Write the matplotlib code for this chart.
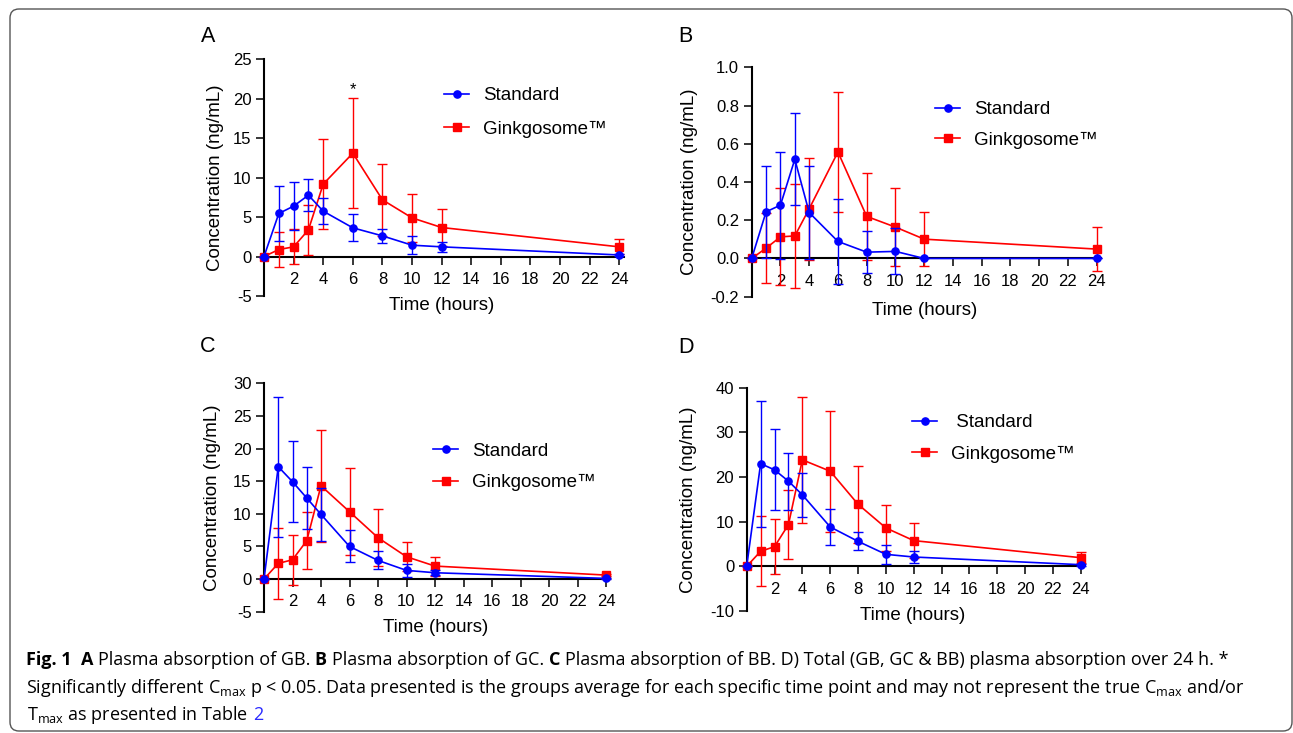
import matplotlib
matplotlib.use("Agg")
import matplotlib.pyplot as plt
from matplotlib.patches import FancyBboxPatch
from matplotlib.transforms import IdentityTransform

W, H = 1293, 733

# ---------------- data ----------------
time_h = [0, 1, 2, 3, 4, 6, 8, 10, 12, 24]
series_labels = ["Standard", "Ginkgosome\u2122"]

a_std_mean = [0, 5.46, 6.39, 7.78, 5.75, 3.64, 2.62, 1.44, 1.23, 0.20]
a_std_sd = [0, 3.5, 3.05, 2.0, 1.65, 1.7, 0.9, 1.15, 0.6, 0.15]
a_gink_mean = [0, 0.89, 1.23, 3.38, 9.18, 13.1, 7.19, 4.9, 3.68, 1.23]
a_gink_sd = [0, 2.25, 2.2, 3.2, 5.7, 7.0, 4.6, 3.0, 2.4, 0.97]

b_std_mean = [0, 0.244, 0.279, 0.519, 0.24, 0.089, 0.033, 0.037, 0, 0]
b_std_sd = [0, 0.24, 0.28, 0.24, 0.244, 0.22, 0.11, 0.12, 0, 0]
b_gink_mean = [0, 0.054, 0.113, 0.118, 0.26, 0.557, 0.22, 0.164, 0.101, 0.049]
b_gink_sd = [0, 0.183, 0.253, 0.27, 0.266, 0.316, 0.226, 0.203, 0.143, 0.113]

c_std_mean = [0, 17.22, 14.92, 12.42, 9.91, 5.0, 2.86, 1.33, 0.97, 0.10]
c_std_sd = [0, 10.7, 6.2, 4.7, 4.0, 2.45, 1.38, 0.97, 0.4, 0.1]
c_gink_mean = [0, 2.4, 2.96, 5.88, 14.3, 10.32, 6.34, 3.42, 1.99, 0.61]
c_gink_sd = [0, 5.4, 3.85, 4.4, 8.6, 6.7, 4.35, 2.2, 1.45, 0.2]

d_std_mean = [0, 23.0, 21.6, 19.07, 16.0, 8.82, 5.6, 2.69, 2.09, 0.37]
d_std_sd = [0, 14.1, 9.05, 6.35, 5.0, 4.0, 2.0, 2.17, 1.27, 0.25]
d_gink_mean = [0, 3.36, 4.41, 9.35, 23.85, 21.3, 13.9, 8.6, 5.76, 1.94]
d_gink_sd = [0, 7.85, 6.2, 7.7, 14.1, 13.5, 8.6, 5.1, 3.96, 1.3]

x_ticks = [2, 4, 6, 8, 10, 12, 14, 16, 18, 20, 22, 24]
a_yticks = [-5, 0, 5, 10, 15, 20, 25]
b_yticks = [-0.2, 0.0, 0.2, 0.4, 0.6, 0.8, 1.0]
c_yticks = [-5, 0, 5, 10, 15, 20, 25, 30]
d_yticks = [-10, 0, 10, 20, 30, 40]
sig_time = 6
sig_level = 21.2

# ---------------- style ----------------
plt.rcParams["font.family"] = ["Liberation Sans", "DejaVu Sans"]
plt.rcParams["axes.unicode_minus"] = False
plt.rcParams["mathtext.fontset"] = "custom"
plt.rcParams["mathtext.rm"] = "Open Sans"
plt.rcParams["mathtext.it"] = "Open Sans:italic"
plt.rcParams["mathtext.bf"] = "Open Sans:bold"

BLUE = "#0000ff"
RED = "#ff0000"

fig = plt.figure(figsize=(W / 100, H / 100), dpi=100)
fig.patch.set_facecolor("white")


def px_axes(x0, x24, y_top_px, y_bot_px, xmax=24.3):
    pph = (x24 - x0) / 24.0
    width = pph * xmax
    return fig.add_axes([x0 / W, 1 - y_bot_px / H, width / W, (y_bot_px - y_top_px) / H])


panels = [
    dict(letter="A", geom=(264, 619.3, 59.3, 296.0), ylim=(-5, 25), yticks=a_yticks, fmt="{:g}",
         data=(a_std_mean, a_std_sd, a_gink_mean, a_gink_sd),
         letter_px=(208, 37), ylab_x=-0.136, xlab=(0.495, -0.042),
         leg=(444, 112.5), legsp=0.87, std_label=series_labels[0]),
    dict(letter="B", geom=(751.7, 1096.7, 67.3, 296.7), ylim=(-0.2, 1.0), yticks=b_yticks, fmt="{:.1f}",
         data=(b_std_mean, b_std_sd, b_gink_mean, b_gink_sd),
         letter_px=(685, 36), ylab_x=-0.177, xlab=(0.496, -0.058),
         leg=(935, 125), legsp=0.70, std_label=series_labels[0]),
    dict(letter="C", geom=(264, 606, 383.3, 611.7), ylim=(-5, 30), yticks=c_yticks, fmt="{:g}",
         data=(c_std_mean, c_std_sd, c_gink_mean, c_gink_sd),
         letter_px=(208, 346), ylab_x=-0.150, xlab=(0.497, -0.067),
         leg=(433, 467), legsp=0.77, std_label=series_labels[0]),
    dict(letter="D", geom=(746.7, 1080.7, 387.7, 611.0), ylim=(-10, 40), yticks=d_yticks, fmt="{:g}",
         data=(d_std_mean, d_std_sd, d_gink_mean, d_gink_sd),
         letter_px=(686, 347), ylab_x=-0.171, xlab=(0.492, -0.022),
         leg=(912, 438.4), legsp=0.77, std_label=" " + series_labels[0]),
]

for p in panels:
    ax = px_axes(*p["geom"])
    sm, ss, gm, gs = p["data"]
    eb_g = ax.errorbar(time_h, gm, yerr=gs, color=RED, marker="s", ms=5.5, lw=1.2,
                       elinewidth=1.0, capsize=3.6, capthick=1.0, clip_on=False, zorder=3)
    eb_s = ax.errorbar(time_h, sm, yerr=ss, color=BLUE, marker="o", ms=5.2, lw=1.2,
                       elinewidth=1.0, capsize=3.6, capthick=1.0, clip_on=False, zorder=4)
    ax.set_xlim(0, 24.3)
    ax.set_ylim(*p["ylim"])
    ax.set_xticks(x_ticks)
    ax.set_xticklabels([str(t) for t in x_ticks])
    ax.set_yticks(p["yticks"])
    ax.set_yticklabels([p["fmt"].format(v) for v in p["yticks"]])
    for s in ["top", "right"]:
        ax.spines[s].set_visible(False)
    ax.spines["bottom"].set_position(("data", 0))
    ax.spines["left"].set_linewidth(1.5)
    ax.spines["bottom"].set_linewidth(1.5)
    ax.tick_params(axis="both", direction="out", length=6, width=1.1, labelsize=12, colors="black")
    ax.tick_params(axis="x", pad=5)
    ax.tick_params(axis="y", pad=3)
    ax.patch.set_alpha(0)

    ax.set_ylabel("Concentration (ng/mL)", fontsize=13.5)
    ax.yaxis.set_label_coords(p["ylab_x"], 0.5)
    ax.yaxis.label.set_va("center")
    ax.set_xlabel("Time (hours)", fontsize=13.5)
    ax.xaxis.set_label_coords(*p["xlab"])
    ax.xaxis.label.set_va("center")

    ax.legend([eb_s[0], eb_g[0]], [p["std_label"], series_labels[1]],
              loc="center left", bbox_to_anchor=(p["leg"][0] / W, 1 - p["leg"][1] / H),
              bbox_transform=fig.transFigure, frameon=False, fontsize=13.5,
              handlelength=1.35, handletextpad=0.75, labelspacing=p["legsp"],
              borderpad=0, borderaxespad=0, numpoints=1)

    fig.text(p["letter_px"][0] / W, 1 - p["letter_px"][1] / H, p["letter"],
             fontsize=15.5, ha="center", va="center")

    if p["letter"] == "A":
        ax.text(sig_time, sig_level, "*", fontsize=12, ha="center", va="center")

# ---------------- caption ----------------
CAP_FONT = ["Open Sans", "DejaVu Sans"]
CAP_SIZE = 13.0
renderer = fig.canvas.get_renderer()


def raw_width(s, weight):
    t = fig.text(0, 0, s, fontsize=CAP_SIZE, family=CAP_FONT, fontweight=weight)
    w = t.get_window_extent(renderer).width
    t.remove()
    return w


def text_width(s, weight):
    return raw_width("|" + s + "|", weight) - raw_width("||", weight)


def put(x_px, base_px, s, weight="normal", color="black"):
    fig.text(x_px / W, 1 - base_px / H, s, fontsize=CAP_SIZE, family=CAP_FONT,
             fontweight=weight, color=color, ha="left", va="baseline")


def seg_line(x_px, base_px, segments):
    x = x_px
    for s, weight, color in segments:
        put(x, base_px, s, weight, color)
        x += text_width(s, weight)


seg_line(26, 665, [
    ("Fig.\u00a01\u00a0\u00a0", "bold", "black"),
    ("A ", "bold", "black"), ("Plasma absorption of GB. ", "normal", "black"),
    ("B ", "bold", "black"), ("Plasma absorption of GC. ", "normal", "black"),
    ("C ", "bold", "black"),
    ("Plasma absorption of BB. D) Total (GB, GC & BB) plasma absorption over 24 h. *", "normal", "black"),
])
put(26, 693, r"Significantly different C$_{\mathrm{max}}$ p < 0.05. Data presented is the groups average "
             r"for each specific time point and may not represent the true C$_{\mathrm{max}}$ and/or")

line3_black = r"T$_{\mathrm{max}}$ as presented in Table"
line3_link = "2"
full_w = raw_width(line3_black + " " + line3_link, "normal")
link_w = raw_width(line3_link, "normal")
put(27, 720, line3_black)
put(27 + full_w - link_w, 720, line3_link, color="#2a2aff")

# ---------------- frame ----------------
frame = FancyBboxPatch((10, 2), 1282, 722, boxstyle="round,pad=0,rounding_size=9",
                       transform=IdentityTransform(), fill=False, edgecolor="#555555", lw=1.0)
fig.add_artist(frame)

fig.savefig("out.png", dpi=100, facecolor="white")
